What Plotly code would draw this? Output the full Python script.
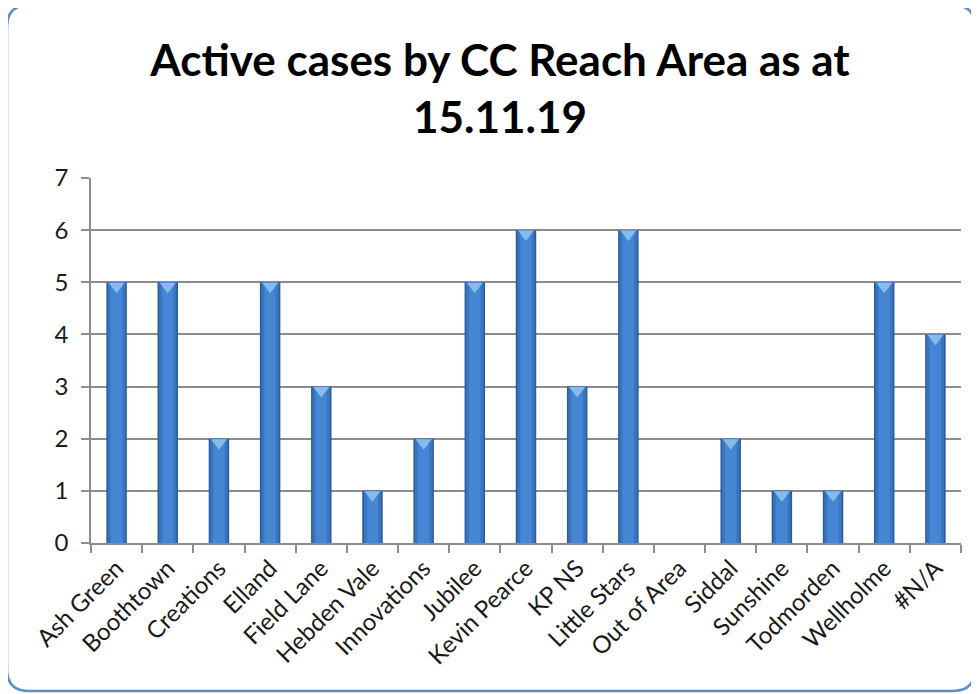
import plotly.graph_objects as go

# Chart data
areas = [
    "Ash Green", "Boothtown", "Creations", "Elland", "Field Lane", "Hebden Vale",
    "Innovations", "Jubilee", "Kevin Pearce", "KP NS", "Little Stars", "Out of Area",
    "Siddal", "Sunshine", "Todmorden", "Wellholme", "#N/A",
]
cases = [5, 5, 2, 5, 3, 1, 2, 5, 6, 3, 6, 0, 2, 1, 1, 5, 4]
y_ticks = [0, 1, 2, 3, 4, 5, 6, 7]

TITLE = "Active cases by CC Reach Area as at<br>15.11.19"
FONT = "Lato, Carlito, Calibri, sans-serif"

W, H = 979, 694
OFF = 8  # page body margin in the browser
L, R, T, B = 91 - OFF, 18 + OFF, 178 - OFF, 151 + OFF
PW, PH = W - L - R, H - T - B


def px(x):
    return (x - OFF - L) / PW


def py(y):
    return (H - B - (y - OFF)) / PH


def frame_path(x0, y0, x1, y1, r):
    # rounded rectangle in paper coords
    ax0, ax1 = px(x0), px(x1)
    ay0, ay1 = py(y0), py(y1)
    rx, ry = r / PW, r / PH
    return (
        f"M {ax0 + rx},{ay0} L {ax1 - rx},{ay0} Q {ax1},{ay0} {ax1},{ay0 - ry} "
        f"L {ax1},{ay1 + ry} Q {ax1},{ay1} {ax1 - rx},{ay1} "
        f"L {ax0 + rx},{ay1} Q {ax0},{ay1} {ax0},{ay1 + ry} "
        f"L {ax0},{ay0 - ry} Q {ax0},{ay0} {ax0 + rx},{ay0} Z"
    )


fig = go.Figure()

# layered bars give the cylinder shading
for width, color in [(0.40, "#2C5C9C"), (0.34, "#3A75BE"), (0.22, "#4587D4")]:
    fig.add_trace(go.Bar(
        x=areas, y=cases, width=width,
        marker=dict(color=color, line_width=0),
        hoverinfo="skip", showlegend=False,
    ))

# light chevron cap at the top of each bar
cap_y = [v - 0.075 if v > 0 else None for v in cases]
fig.add_trace(go.Scatter(
    x=areas, y=cap_y, mode="markers",
    marker=dict(symbol="triangle-down", size=14, color="#86BBEE", line_width=0),
    hoverinfo="skip", showlegend=False, cliponaxis=False,
))

fig.add_shape(
    type="path", xref="paper", yref="paper",
    path=frame_path(7, 5, 975, 691, 22),
    line=dict(color="#5B8DCB", width=2.5), fillcolor="rgba(0,0,0,0)",
    layer="above",
)

fig.update_layout(
    width=W, height=H,
    margin=dict(l=L, r=R, t=T, b=B),
    paper_bgcolor="white", plot_bgcolor="white",
    barmode="overlay",
    font=dict(family=FONT, color="#1a1a1a"),
    title=dict(
        text=f"<b>{TITLE}</b>", x=(500 - OFF) / W, xref="container",
        xanchor="center", y=1 - 68 / H, yanchor="top",
        font=dict(family=FONT, size=44, color="#000000"),
    ),
    showlegend=False,
    xaxis=dict(
        type="category", range=[-0.5, len(areas) - 0.5],
        tickangle=-45, tickson="boundaries",
        ticks="outside", ticklen=8, tickcolor="#8c8c8c", tickwidth=1.5,
        showline=True, linecolor="#8c8c8c", linewidth=1.5,
        showgrid=False, tickfont=dict(size=24, color="#1a1a1a"),
    ),
    yaxis=dict(
        range=[0, 7], tickvals=y_ticks, ticks="outside", ticklen=8,
        tickcolor="#8c8c8c", tickwidth=1.5,
        showline=True, linecolor="#8c8c8c", linewidth=1.5,
        showgrid=True, gridcolor="#8c8c8c", gridwidth=1.5,
        zeroline=False, tickfont=dict(size=24, color="#1a1a1a"),
        ticklabelstandoff=8,
    ),
)

fig.write_html("out.html")
